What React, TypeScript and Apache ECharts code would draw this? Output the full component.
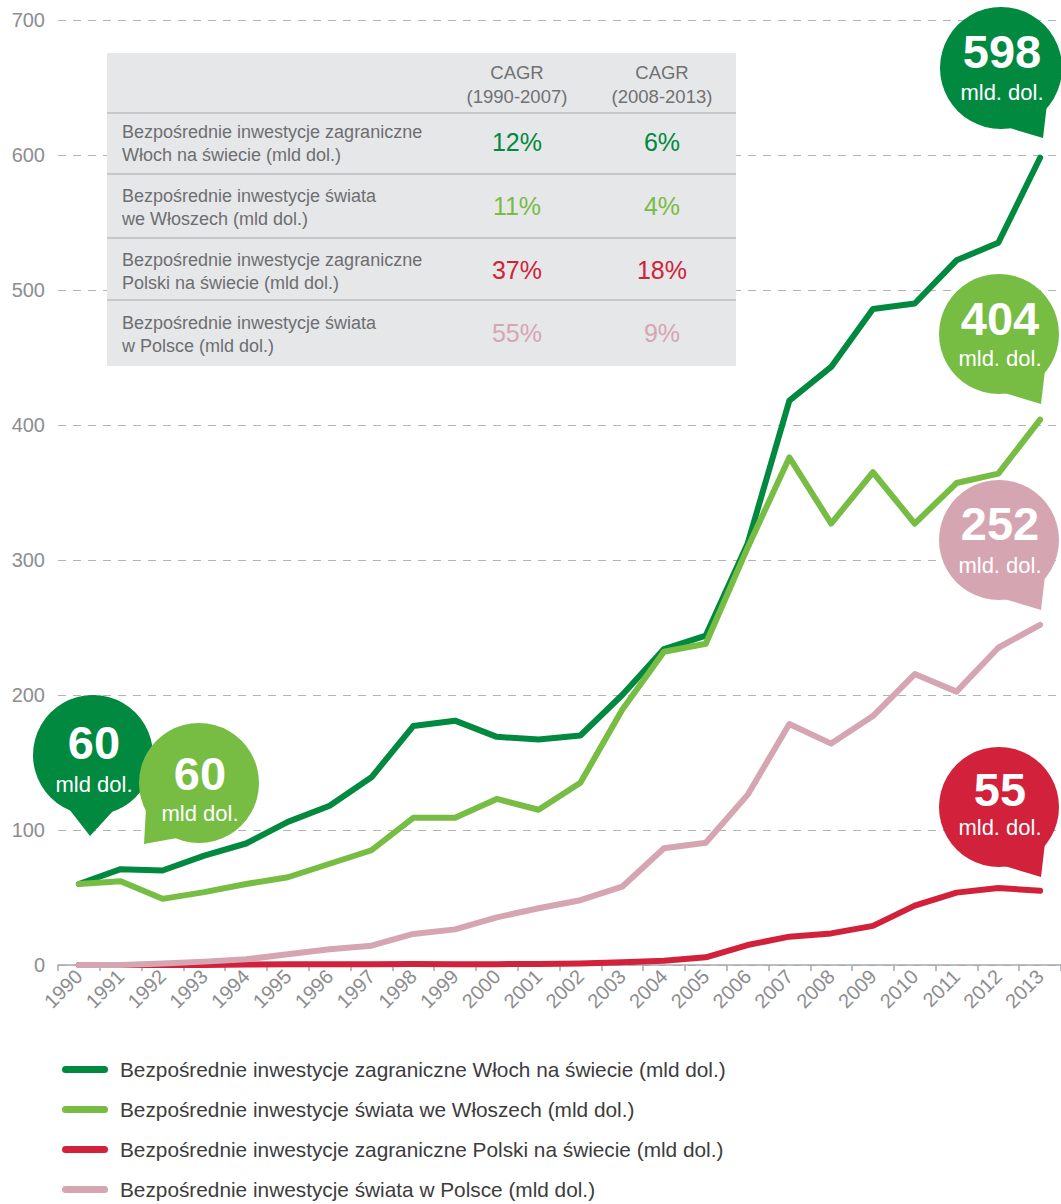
import React, { useEffect, useRef } from "react";
import * as echarts from "echarts";

const years = ["1990","1991","1992","1993","1994","1995","1996","1997","1998","1999","2000","2001","2002","2003","2004","2005","2006","2007","2008","2009","2010","2011","2012","2013"];
const italyOutward = [60,71,70,81,90,106,118,139,177,181,169,167,170,200,234,244,312,418,443,486,490,522,535,598];
const italyInward = [60,62,49,54,60,65,75,85,109,109,123,115,135,189,232,238,309,376,327,365,327,357,364,404];
const polandOutward = [0,0,0,0,0.3,0.5,0.5,0.5,0.8,0.6,0.6,0.8,1.2,2,3.2,5.7,14.8,21,23.4,29,44,53.6,57,55];
const polandInward = [0,0,1.2,2.5,4.2,8,11.6,14.3,23,26.4,35.3,42,48,58,86.5,90.6,126,178.5,164,184.4,215.5,202.5,235,252];

const seriesNames = [
  "Bezpośrednie inwestycje zagraniczne Włoch na świecie (mld dol.)",
  "Bezpośrednie inwestycje świata we Włoszech (mld dol.)",
  "Bezpośrednie inwestycje zagraniczne Polski na świecie (mld dol.)",
  "Bezpośrednie inwestycje świata w Polsce (mld dol.)",
];
const tableLabels = [
  "Bezpośrednie inwestycje zagraniczne\nWłoch na świecie (mld dol.)",
  "Bezpośrednie inwestycje świata\nwe Włoszech (mld dol.)",
  "Bezpośrednie inwestycje zagraniczne\nPolski na świecie (mld dol.)",
  "Bezpośrednie inwestycje świata\nw Polsce (mld dol.)",
];
const cagrHeaders = ["CAGR\n(1990-2007)", "CAGR\n(2008-2013)"];
const cagr1 = ["12%", "11%", "37%", "55%"];
const cagr2 = ["6%", "4%", "18%", "9%"];
const colors = ["#00893f", "#77bd43", "#d2213a", "#d5a6b2"];

const FONT = "'Liberation Sans', Arial, sans-serif";

function bubble(cx, cy, r, color, tail, num, unit, numDy, unitDy) {
  return {
    type: "group",
    z: 200,
    children: [
      { type: "circle", shape: { cx, cy, r }, style: { fill: color }, z: 200 },
      { type: "polygon", shape: { points: tail.map(([dx, dy]) => [cx + dx, cy + dy]) }, style: { fill: color }, z: 200 },
      { type: "text", z: 201, style: { text: num, x: cx + 1, y: cy + numDy, fill: "#fff", fontFamily: FONT, fontWeight: "bold", fontSize: 47, textAlign: "center", textVerticalAlign: "middle" } },
      { type: "text", z: 201, style: { text: unit, x: cx + 1, y: cy + unitDy, fill: "#fff", fontFamily: FONT, fontSize: 22, textAlign: "center", textVerticalAlign: "middle" } },
    ],
  };
}

export default function App() {
  const ref = useRef(null);
  useEffect(() => {
    document.body.style.margin = "0";
    const chart = echarts.init(ref.current, null, { renderer: "svg" });
    const last = years.length - 1;
    const rightTail = [[2, 58], [42, 70], [46, 36]];

    const tableX = 107, tableY = 53, tableW = 629, tableH = 313;
    const sepYs = [113, 174, 238, 300];
    const rowCenters = [143, 207, 271, 334];
    const graphic = [
      { type: "rect", z: 100, shape: { x: tableX, y: tableY, width: tableW, height: tableH }, style: { fill: "#e6e7e8" } },
      ...sepYs.map((y) => ({ type: "line", z: 101, shape: { x1: tableX, y1: y, x2: tableX + tableW, y2: y }, style: { stroke: "#c6c7c9", lineWidth: 2 } })),
      ...cagrHeaders.map((t, i) => ({ type: "text", z: 102, style: { text: t, x: i === 0 ? 517 : 662, y: 84, fill: "#707173", fontFamily: FONT, fontSize: 18.5, lineHeight: 24, textAlign: "center", textVerticalAlign: "middle" } })),
      ...tableLabels.map((t, i) => ({ type: "text", z: 102, style: { text: t, x: 122, y: rowCenters[i], fill: "#6d6e71", fontFamily: FONT, fontSize: 18, lineHeight: 23, textAlign: "left", textVerticalAlign: "middle" } })),
      ...cagr1.map((t, i) => ({ type: "text", z: 102, style: { text: t, x: 517, y: rowCenters[i] - 1, fill: colors[i], fontFamily: FONT, fontSize: 25, textAlign: "center", textVerticalAlign: "middle" } })),
      ...cagr2.map((t, i) => ({ type: "text", z: 102, style: { text: t, x: 662, y: rowCenters[i] - 1, fill: colors[i], fontFamily: FONT, fontSize: 25, textAlign: "center", textVerticalAlign: "middle" } })),
      bubble(1001, 68, 61, colors[0], rightTail, String(italyOutward[last]), "mld. dol.", -17, 24),
      bubble(999, 334, 60, colors[1], rightTail, String(italyInward[last]), "mld. dol.", -16, 24),
      bubble(999, 540, 60, colors[3], rightTail, String(polandInward[last]), "mld. dol.", -17, 25),
      bubble(999, 807, 60, colors[2], rightTail, String(polandOutward[last]), "mld. dol.", -18, 20),
      bubble(93, 755, 60, colors[0], [[-24, 54], [-3, 81], [20, 56]], String(italyOutward[0]), "mld dol.", -13, 29),
      bubble(199, 783, 60, colors[1], [[-53, 25], [-55, 61], [-22, 55]], String(italyInward[0]), "mld dol.", -10, 30),
    ];

    const series = [italyOutward, italyInward, polandOutward, polandInward].map((d, i) => ({
      name: seriesNames[i],
      type: "line",
      data: d,
      color: colors[i],
      symbol: "none",
      lineStyle: { width: 6, color: colors[i], cap: "round", join: "round" },
      z: 3 + i,
    }));

    chart.setOption({
      animation: false,
      grid: { left: 58, top: 20, width: 1005, height: 945, containLabel: false },
      xAxis: {
        type: "category",
        data: years,
        boundaryGap: true,
        axisLine: { lineStyle: { color: "#a7a9ac", width: 1.5 } },
        axisTick: { show: true, length: 6, lineStyle: { color: "#a7a9ac", width: 1.5 } },
        axisLabel: { interval: 0, rotate: 45, margin: 8, color: "#8d8d8f", fontSize: 20, fontFamily: FONT },
        splitLine: { show: false },
      },
      yAxis: {
        type: "value",
        min: 0,
        max: 700,
        interval: 100,
        axisLine: { show: false },
        axisTick: { show: false },
        axisLabel: { margin: 13, color: "#8d8d8f", fontSize: 20, fontFamily: FONT },
        splitLine: { show: true, lineStyle: { color: "#b3b3b5", width: 1, type: [8, 7] } },
      },
      legend: {
        data: seriesNames,
        orient: "vertical",
        left: 62,
        top: 1059,
        height: 150,
        padding: 0,
        itemGap: 19,
        itemWidth: 46,
        itemHeight: 7,
        icon: "path://M3.5,0 L42.5,0 A3.5,3.5 0 0 1 42.5,7 L3.5,7 A3.5,3.5 0 0 1 3.5,0 Z",
        textStyle: { fontSize: 20.8, color: "#3c3c3c", fontFamily: FONT, lineHeight: 20, padding: [0, 0, 0, 7] },
        selectedMode: false,
      },
      series,
      graphic,
    });
    return () => chart.dispose();
  }, []);
  return <div ref={ref} style={{ width: 1061, height: 1204 }} />;
}
